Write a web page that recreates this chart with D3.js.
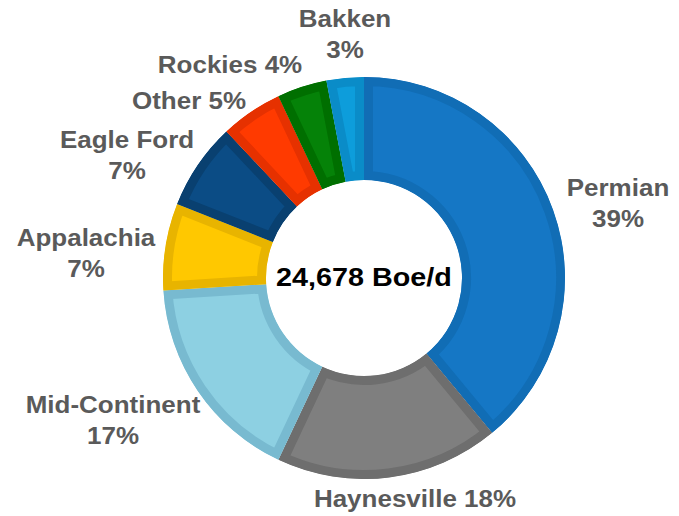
<!DOCTYPE html>
<html>
<head>
<meta charset="utf-8">
<script src="https://cdn.jsdelivr.net/npm/d3@7"></script>
<style>
  html, body { margin: 0; padding: 0; background: #fff; }
  svg { display: block; }
  .lbl { font-family: "Liberation Sans", Arial, sans-serif; font-weight: bold; fill: #5a5a5a; }
  .center { font-family: "Liberation Sans", Arial, sans-serif; font-weight: bold; fill: #000; }
</style>
</head>
<body>
<svg id="chart" width="679" height="516"></svg>
<script>
// Production mix by basin (share of total, %)
const basins = ["Permian", "Haynesville", "Mid-Continent", "Appalachia", "Eagle Ford", "Other", "Rockies", "Bakken"];
const shares = [39, 18, 17, 7, 7, 5, 4, 3];
const faceColors = ["#1577c5", "#7f7f7f", "#8dd0e2", "#ffc800", "#0b4c85", "#ff3a00", "#058208", "#0d9ddb"];
const edgeColors = ["#116db5", "#6e6e6e", "#78bad0", "#e8b400", "#094070", "#e63100", "#006f00", "#0a8cc8"];
const totalLabel = "24,678 Boe/d";

// Label text lines per basin and their placement relative to the donut centre
const labelLines = [
  ["Permian", "39%"],
  ["Haynesville 18%"],
  ["Mid-Continent", "17%"],
  ["Appalachia", "7%"],
  ["Eagle Ford", "7%"],
  ["Other 5%"],
  ["Rockies 4%"],
  ["Bakken", "3%"]
];
const labelOffsets = [
  [254, -82], [51, 229], [-251, 135], [-278, -32],
  [-237, -130], [-175, -169], [-134, -205], [-19, -251]
];

const width = 679, height = 516;
const cx = 364, cy = 278;
const outerR = 201, innerR = 98;
const rimWidth = 9;
const lineGap = 31;
const stretch = 1.13;

const svg = d3.select("#chart");
const g = svg.append("g").attr("transform", `translate(${cx},${cy})`);

const pie = d3.pie().sort(null).value(d => d)
  .startAngle(0).endAngle(2 * Math.PI);
const arcs = pie(shares);
const arc = d3.arc().innerRadius(innerR).outerRadius(outerR);

const defs = svg.append("defs");
arcs.forEach((a, i) => {
  defs.append("clipPath").attr("id", "clip" + i)
    .append("path").attr("d", arc(a));
});

// Each slice: face colour with a darker inset rim
g.selectAll("path.slice")
  .data(arcs)
  .join("path")
  .attr("class", "slice")
  .attr("d", arc)
  .attr("fill", (d, i) => faceColors[i])
  .attr("stroke", (d, i) => edgeColors[i])
  .attr("stroke-width", rimWidth * 2)
  .attr("stroke-linejoin", "miter")
  .attr("clip-path", (d, i) => `url(#clip${i})`);

// Category labels
labelLines.forEach((lines, i) => {
  const [dx, dy] = labelOffsets[i];
  lines.forEach((t, k) => {
    g.append("text")
      .attr("class", "lbl")
      .attr("font-size", 23)
      .attr("text-anchor", "middle")
      .attr("transform", `translate(${dx},${dy + k * lineGap}) scale(${stretch},1)`)
      .text(t);
  });
});

// Total in the hole
g.append("text")
  .attr("class", "center")
  .attr("font-size", 25)
  .attr("text-anchor", "middle")
  .attr("transform", `translate(0,8) scale(1.15,1)`)
  .text(totalLabel);
</script>
</body>
</html>
